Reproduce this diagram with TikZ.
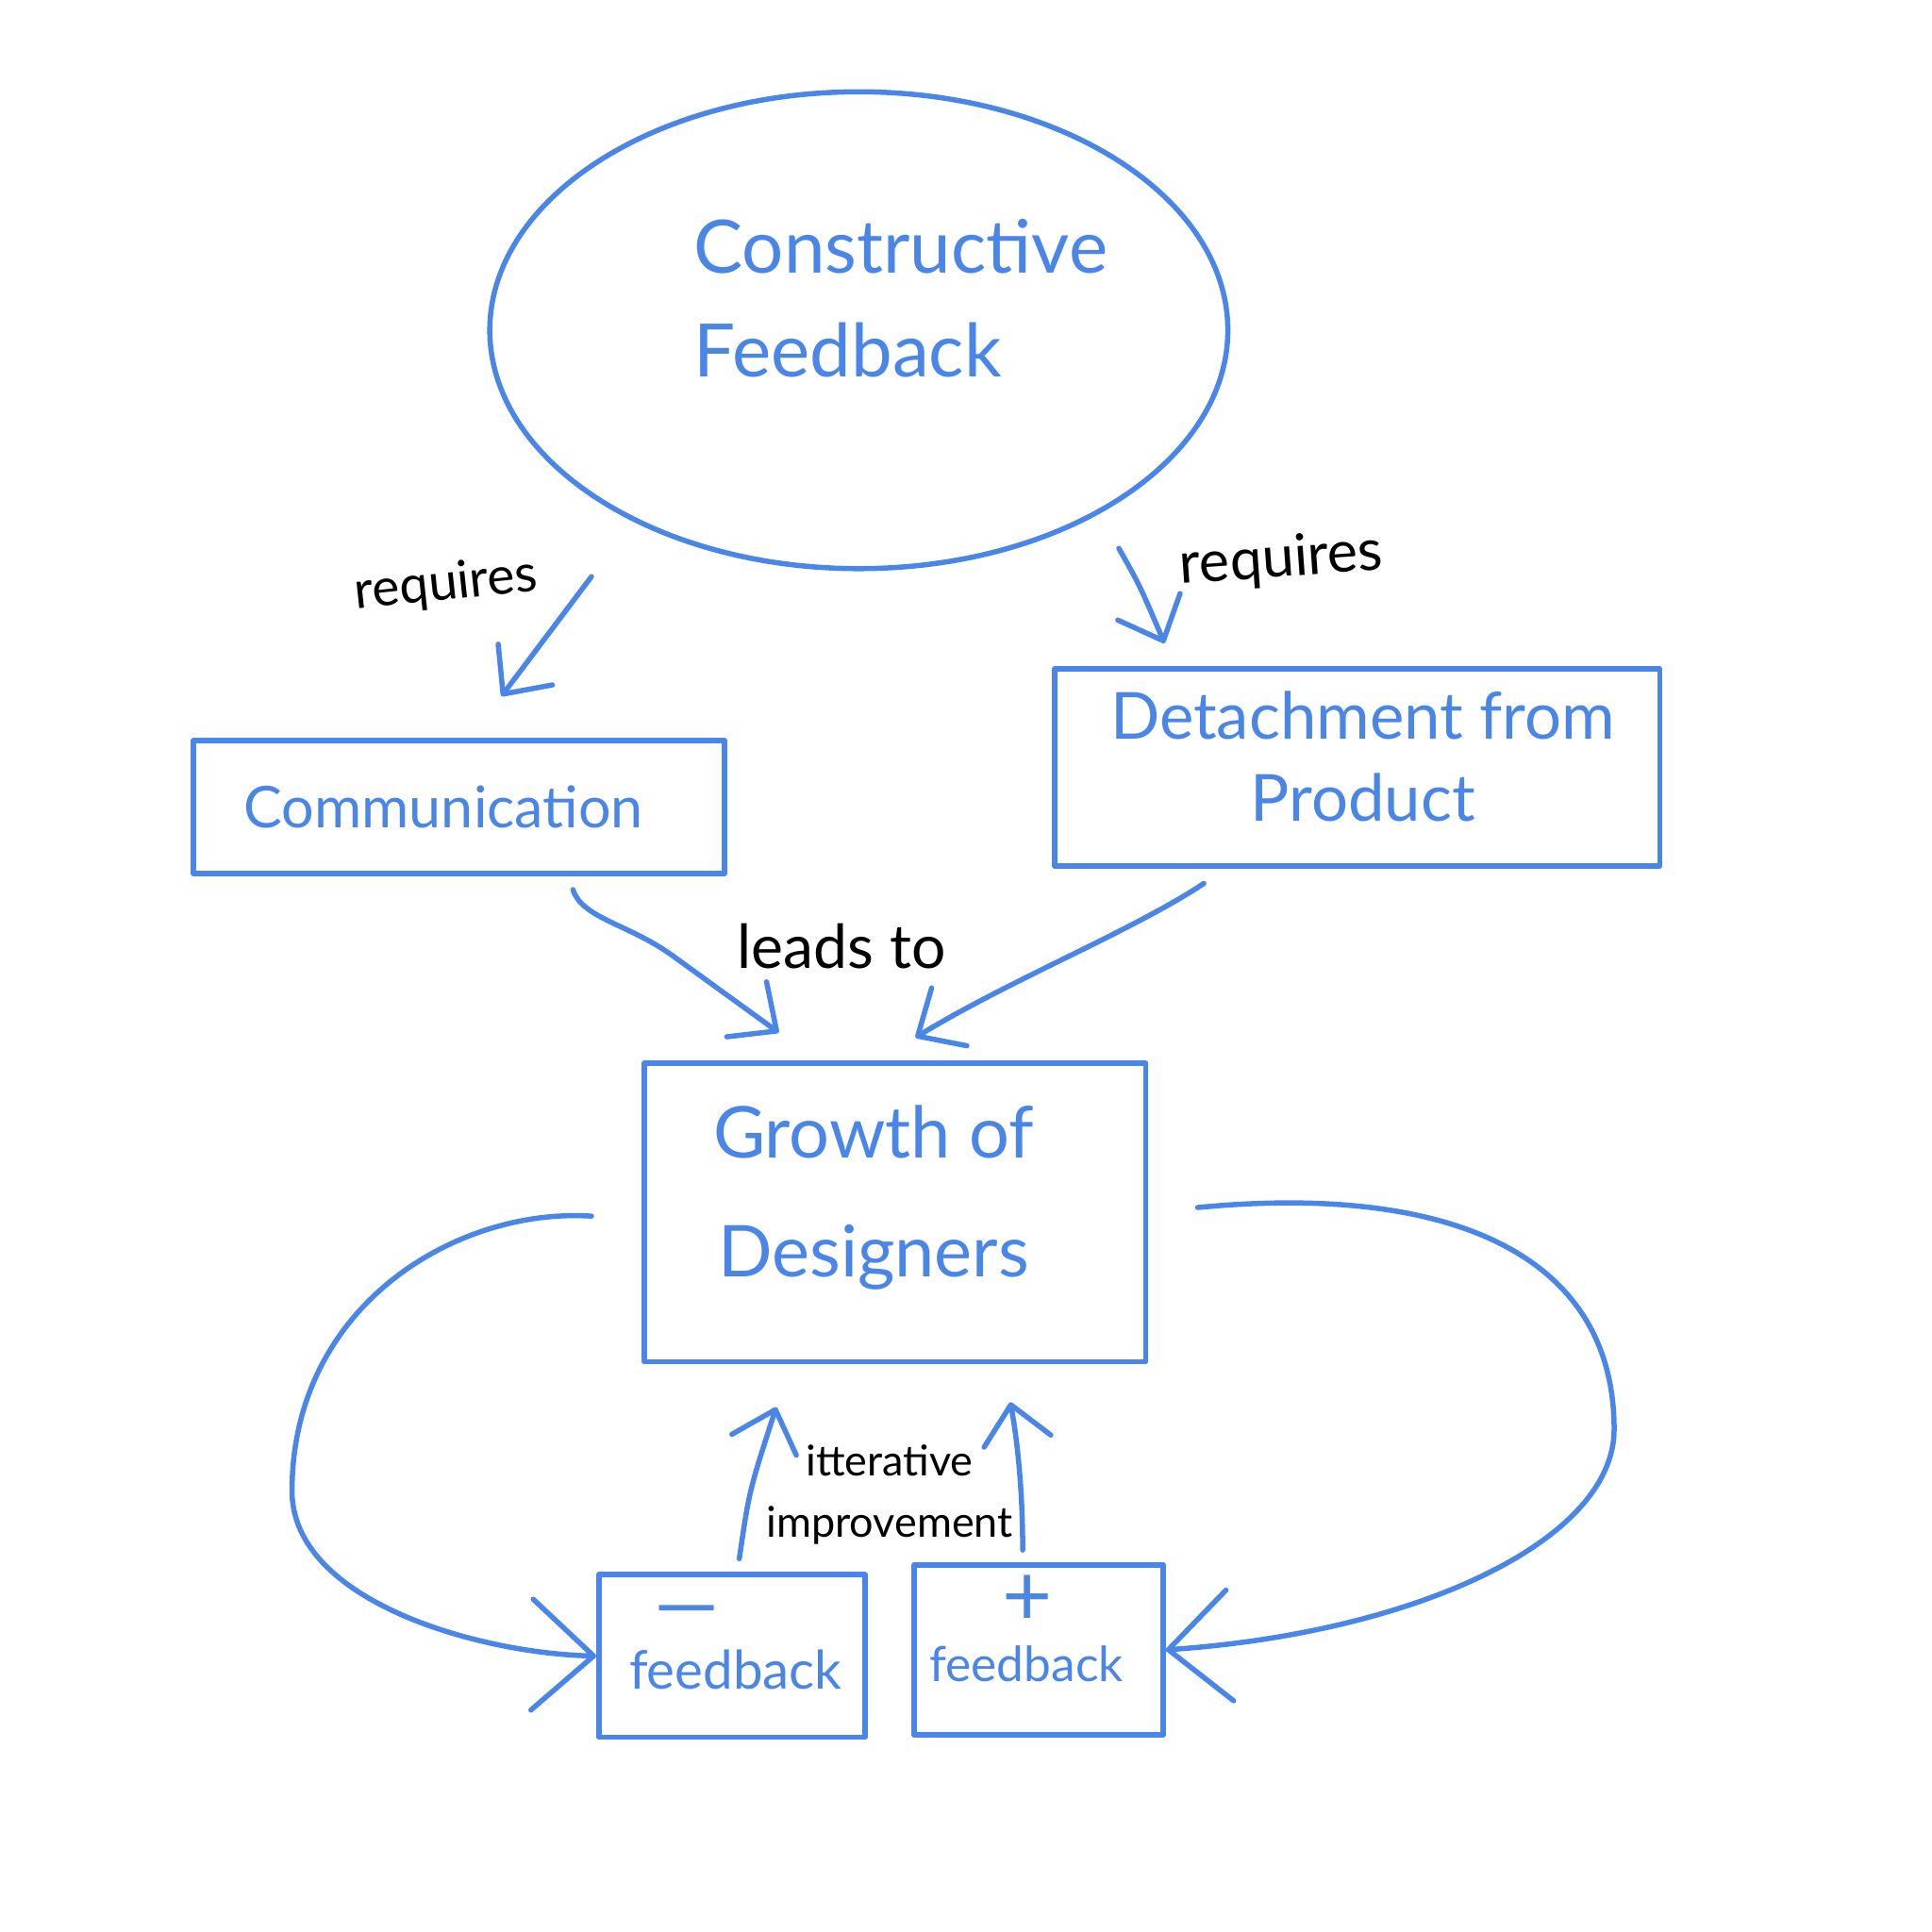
\documentclass[tikz,border=0pt]{standalone}
\usepackage{fontspec}
\setmainfont{Lato}
\usepackage{xcolor}
\usetikzlibrary{arrows.meta,shapes.geometric,positioning}
\definecolor{sketchblue}{RGB}{74,134,232}

\begin{document}
\begin{tikzpicture}[line width=1.2pt,line cap=round,line join=round,
	box/.style={draw=sketchblue,rectangle,inner sep=0pt,align=center,text=sketchblue},
	bluetext/.style={text=sketchblue,inner sep=0pt,align=left},
	note/.style={text=black,inner sep=0pt,align=center},
	arr/.style={sketchblue,-{Straight Barb[round,length=3mm,width=5.5mm]}},
	bigarr/.style={sketchblue,-{Straight Barb[round,length=5mm,width=9mm]}}]
	\useasboundingbox (0,0) rectangle (15.68,-15.68);
	\fill[white] (0,0) rectangle (15.68,-15.68);
	% boxes
	\node[draw=sketchblue,ellipse,minimum width=5.99cm,minimum height=3.87cm,inner sep=0pt] (cf) at (6.97,-2.68) {};
	\node[bluetext,font=\fontsize{17}{24}\selectfont] (cftext) at (7.31,-2.42) {Constructive\\Feedback};
	\node[box,minimum width=4.31cm,minimum height=1.08cm,font=\fontsize{13.3}{16}\selectfont] (comm) at (3.725,-6.55) {Communication\hspace*{0.25cm}};
	\node[box,minimum width=4.91cm,minimum height=1.60cm] (detach) at (11.015,-6.23) {};
	\node[bluetext,align=center,font=\fontsize{15}{19}\selectfont] (detachtext) at (11.06,-6.14) {Detachment from\\Product};
	\node[box,minimum width=4.07cm,minimum height=2.42cm] (growth) at (7.265,-9.84) {};
	\node[bluetext,align=center,font=\fontsize{16.5}{27.5}\selectfont] (growthtext) at (7.09,-9.72) {Growth of\\Designers};
	\node[box,minimum width=2.16cm,minimum height=1.32cm] (neg) at (5.94,-13.44) {};
	\node[box,minimum width=2.02cm,minimum height=1.38cm] (pos) at (8.43,-13.39) {};
	\node[bluetext,font=\fontsize{12.3}{14}\selectfont] (negtext) at (5.97,-13.55) {feedback};
	\node[bluetext,font=\fontsize{11.2}{14}\selectfont] (postext) at (8.33,-13.50) {feedback};
	\node[bluetext,font=\fontsize{19}{19}\selectfont] (negsign) at (5.575,-13.14) {—};
	\node[bluetext,font=\fontsize{20}{20}\selectfont] (possign) at (8.34,-12.99) {+};
	% labels
	\node[note,rotate=6,font=\fontsize{12}{14}\selectfont] (reqleft) at (3.62,-4.75) {requires};
	\node[note,rotate=4,font=\fontsize{13.3}{14}\selectfont] (reqright) at (10.40,-4.55) {requires};
	\node[note,font=\fontsize{14}{16}\selectfont] (leads) at (6.83,-7.68) {leads to};
	\node[note,font=\fontsize{9.8}{14}\selectfont] (iter) at (7.22,-12.13) {itterative\\improvement};
	% free ends
	\coordinate (reqLa) at (4.80,-4.68);
	\coordinate (reqLb) at (4.07,-5.65);
	\coordinate (reqRa) at (9.08,-4.45);
	\coordinate (reqRb) at (9.45,-5.22);
	\coordinate (leadLa) at (4.65,-7.22);
	\coordinate (leadLb) at (6.32,-8.38);
	\coordinate (leadRa) at (9.77,-7.17);
	\coordinate (leadRb) at (7.43,-8.42);
	\coordinate (negup) at (6.00,-12.65);
	\coordinate (negtip) at (6.30,-11.42);
	\coordinate (posup) at (8.30,-12.58);
	\coordinate (postip) at (8.20,-11.38);
	\coordinate (loopL) at (4.80,-9.87);
	\coordinate (loopR) at (9.72,-9.80);
	% connectors
	\draw[arr] (reqLa) -- (reqLb);
	\draw[arr] (reqRa) .. controls (9.25,-4.75) .. (reqRb);
	\draw[arr] (leadLa) .. controls (4.72,-7.45) and (5.10,-7.50) .. (5.45,-7.75) -- (leadLb);
	\draw[arr] (leadRa) .. controls (9.20,-7.55) and (8.20,-7.95) .. (leadRb);
	\draw[arr] (negup) .. controls (6.08,-12.10) .. (negtip);
	\draw[arr] (posup) .. controls (8.30,-12.00) and (8.24,-11.60) .. (postip);
	\draw[bigarr] (loopL) .. controls (3.70,-9.80) and (2.37,-10.60) .. (2.37,-12.10)
		.. controls (2.37,-13.00) and (3.90,-13.42) .. (neg.west);
	\draw[bigarr] (loopR) .. controls (11.80,-9.60) and (13.10,-10.20) .. (13.10,-11.60)
		.. controls (13.10,-12.50) and (11.50,-13.25) .. (pos.east);
\end{tikzpicture}
\end{document}
